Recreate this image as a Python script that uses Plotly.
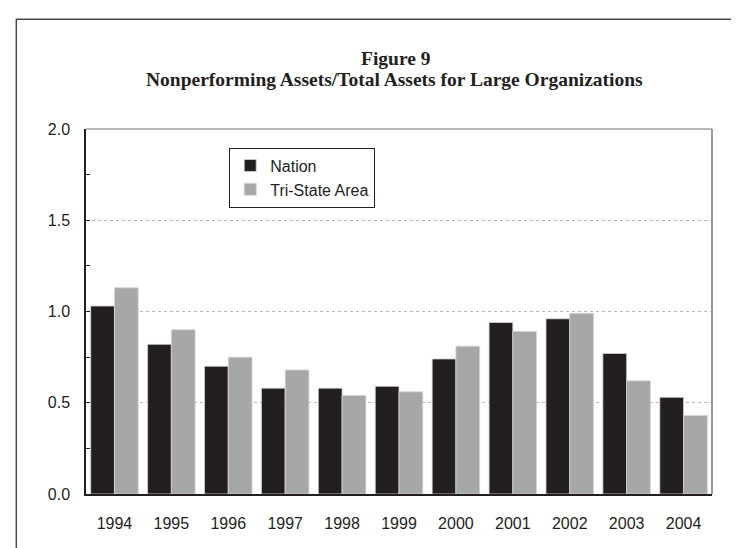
import plotly.graph_objects as go

years = ["1994", "1995", "1996", "1997", "1998", "1999", "2000", "2001", "2002", "2003", "2004"]
nation = [1.03, 0.82, 0.70, 0.58, 0.58, 0.59, 0.74, 0.94, 0.96, 0.77, 0.53]
tristate = [1.13, 0.90, 0.75, 0.68, 0.54, 0.56, 0.81, 0.89, 0.99, 0.62, 0.43]

y_ticks = [0.0, 0.5, 1.0, 1.5, 2.0]
y_labels = ["0.0", "0.5", "1.0", "1.5", "2.0"]

title_line1 = "Figure 9"
title_line2 = "Nonperforming Assets/Total Assets for Large Organizations"

# plot-area geometry in pixels (used only to place decorations)
L, R, T, B = 77.7, 704.0, 120.7, 485.7
PW, PH = R - L, B - T

def px_x(x):
    return (x - L) / PW

def px_y(y):
    return (B - y) / PH

fig = go.Figure()
fig.add_trace(go.Bar(x=years, y=nation, name="Nation",
                     marker=dict(color="#231f20", line=dict(color="#d4d4d4", width=0.8))))
fig.add_trace(go.Bar(x=years, y=tristate, name="Tri-State Area",
                     marker=dict(color="#a6a8a7", line=dict(color="#d4d4d4", width=0.8))))

title_font = dict(family="Liberation Serif, Times New Roman, serif", size=19.5, color="#231f20")

fig.update_layout(
    template="none",
    width=739, height=548,
    margin=dict(l=L, r=739 - R, t=T, b=548 - B, pad=0),
    paper_bgcolor="white", plot_bgcolor="white",
    barmode="group", bargap=0.165, bargroupgap=0.0,
    font=dict(family="Liberation Sans, Arial, sans-serif", size=16, color="#231f20"),
    showlegend=True,
    legend=dict(x=px_x(221), y=px_y(139.3), xanchor="left", yanchor="top",
                bordercolor="#231f20", borderwidth=1, bgcolor="white",
                font=dict(size=16), tracegroupgap=0, itemwidth=30),
    annotations=[
        dict(text="<b>" + title_line1 + "</b>", x=px_x(388), y=px_y(50), xref="paper", yref="paper",
             xanchor="center", yanchor="middle", showarrow=False, font=title_font),
        dict(text="<b>" + title_line2 + "</b>", x=px_x(386), y=px_y(71),
             xref="paper", yref="paper", xanchor="center", yanchor="middle",
             showarrow=False, font=title_font),
    ],
)

fig.update_xaxes(type="category", tickmode="array", tickvals=years, ticktext=years,
                 showline=True, linecolor="#231f20", linewidth=1.5, ticks="",
                 showgrid=False, ticklabelstandoff=14, tickfont=dict(size=16),
                 automargin=False, zeroline=False)
fig.update_yaxes(range=[0, 2.0], tickvals=y_ticks, ticktext=y_labels,
                 showline=True, linecolor="#231f20", linewidth=1.5,
                 ticks="inside", ticklen=4, tickwidth=1.2, tickcolor="#231f20",
                 minor=dict(dtick=0.25, ticks="inside", ticklen=4, tickwidth=1.2,
                            tickcolor="#231f20", showgrid=False),
                 showgrid=True, gridcolor="#b8b8b8", griddash="dot", gridwidth=1,
                 ticklabelstandoff=11, tickfont=dict(size=16), zeroline=False,
                 automargin=False)

# right and top frame lines of the plot area
fig.add_shape(type="line", xref="x domain", yref="y domain", x0=1, x1=1, y0=0, y1=1,
              line=dict(color="#9a9a9a", width=2))
fig.add_shape(type="line", xref="x domain", yref="y domain", x0=0, x1=1, y0=1, y1=1,
              line=dict(color="#777777", width=1))
# outer figure border (open at the bottom edge of the image)
fig.add_shape(type="rect", xref="paper", yref="paper",
              x0=px_x(8), x1=px_x(735), y0=px_y(560), y1=px_y(11),
              line=dict(color="#4a4a4a", width=1.5), fillcolor="rgba(0,0,0,0)", layer="below")

fig.write_html("out.html")
